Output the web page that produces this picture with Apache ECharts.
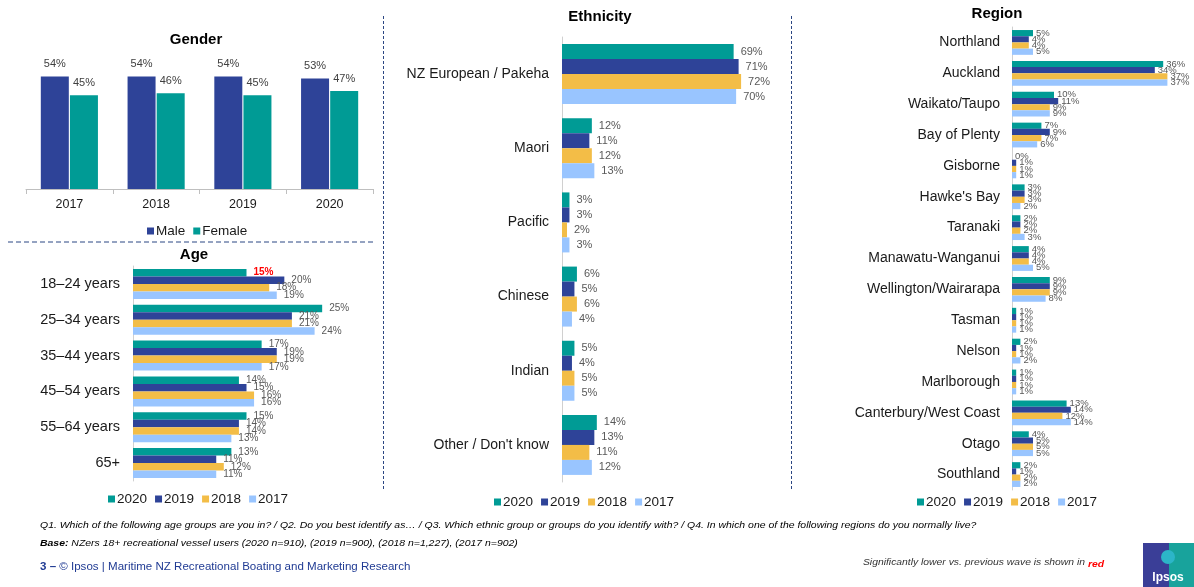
<!DOCTYPE html>
<html>
<head>
<meta charset="utf-8">
<script src="https://cdn.jsdelivr.net/npm/echarts@6/dist/echarts.min.js"></script>
<style>
html,body{margin:0;padding:0;background:#fff;}
#c{width:1194px;height:587px;}
</style>
</head>
<body>
<div id="c"></div>
<script>
// ---------- DATA ----------
const genderYears = ['2017', '2018', '2019', '2020'];
const genderMale = [54, 54, 54, 53];
const genderFemale = [45, 46, 45, 47];

const waves = ['2020', '2019', '2018', '2017'];

const ageGroups = ['18–24 years', '25–34 years', '35–44 years', '45–54 years', '55–64 years', '65+'];
const age2020 = [15, 25, 17, 14, 15, 13];
const age2019 = [20, 21, 19, 15, 14, 11];
const age2018 = [18, 21, 19, 16, 14, 12];
const age2017 = [19, 24, 17, 16, 13, 11];
const age2020SigLower = [true, false, false, false, false, false];

const ethnicGroups = ['NZ European / Pakeha', 'Maori', 'Pacific', 'Chinese', 'Indian', "Other / Don't know"];
const eth2020 = [69, 12, 3, 6, 5, 14];
const eth2019 = [71, 11, 3, 5, 4, 13];
const eth2018 = [72, 12, 2, 6, 5, 11];
const eth2017 = [70, 13, 3, 4, 5, 12];

const regions = ['Northland', 'Auckland', 'Waikato/Taupo', 'Bay of Plenty', 'Gisborne', "Hawke's Bay", 'Taranaki',
  'Manawatu-Wanganui', 'Wellington/Wairarapa', 'Tasman', 'Nelson', 'Marlborough', 'Canterbury/West Coast', 'Otago', 'Southland'];
const reg2020 = [5, 36, 10, 7, 0, 3, 2, 4, 9, 1, 2, 1, 13, 4, 2];
const reg2019 = [4, 34, 11, 9, 1, 3, 2, 4, 9, 1, 1, 1, 14, 5, 1];
const reg2018 = [4, 37, 9, 7, 1, 3, 2, 4, 9, 1, 1, 1, 12, 5, 2];
const reg2017 = [5, 37, 9, 6, 1, 2, 3, 5, 8, 1, 2, 1, 14, 5, 2];

// ---------- STYLE ----------
const FONT = 'Liberation Sans, Arial, sans-serif';
const C_TEAL = '#009B95', C_NAVY = '#2E4398', C_YEL = '#F3BD47', C_LBLUE = '#99C5FF';
const waveColors = [C_TEAL, C_NAVY, C_YEL, C_LBLUE];
const LBL = '#595959';

const chart = echarts.init(document.getElementById('c'), null, {renderer: 'canvas'});

const grids = [
  {left: 26, top: 64, width: 347, height: 125},       // gender
  {left: 133, top: 266, width: 227, height: 215},     // age
  {left: 562, top: 37, width: 199, height: 445},      // ethnicity
  {left: 1012, top: 27, width: 168, height: 463}      // region
];

const hiddenValueAxis = (gi, max) => ({
  type: 'value', gridIndex: gi, min: 0, max: max,
  axisLine: {show: false}, axisTick: {show: false}, axisLabel: {show: false}, splitLine: {show: false}
});
const catY = (gi, data, fs, margin) => ({
  type: 'category', gridIndex: gi, data: data, inverse: true,
  axisLine: {show: true, lineStyle: {color: '#D0D0D0'}},
  axisTick: {show: false},
  axisLabel: {color: '#1a1a1a', fontSize: fs, fontFamily: FONT, margin: margin}
});

const xAxis = [
  {type: 'category', gridIndex: 0, data: genderYears,
   axisLine: {lineStyle: {color: '#BFBFBF'}},
   axisTick: {show: true, length: 5, lineStyle: {color: '#BFBFBF'}},
   axisLabel: {color: '#1a1a1a', fontSize: 12.5, fontFamily: FONT, margin: 9}},
  hiddenValueAxis(1, 30),
  hiddenValueAxis(2, 80),
  hiddenValueAxis(3, 40)
];
const yAxis = [
  hiddenValueAxis(0, 60),
  catY(1, ageGroups, 14.5, 13),
  catY(2, ethnicGroups, 14, 13),
  catY(3, regions, 14, 12)
];

const series = [];
series.push({
  name: 'Male', type: 'bar', xAxisIndex: 0, yAxisIndex: 0, data: genderMale,
  barWidth: 28, barGap: '4%', itemStyle: {color: C_NAVY},
  label: {show: true, position: 'top', distance: 7, formatter: '{c}%', color: '#404040', fontSize: 11, fontFamily: FONT}
});
series.push({
  name: 'Female', type: 'bar', xAxisIndex: 0, yAxisIndex: 0, data: genderFemale,
  barWidth: 28, itemStyle: {color: C_TEAL},
  label: {show: true, position: 'top', distance: 7, formatter: '{c}%', color: '#404040', fontSize: 11, fontFamily: FONT}
});

function addGroup(gi, arrays, barWidth, fs, dist, flags) {
  arrays.forEach((arr, i) => {
    const data = arr.map((v, j) => {
      if (i === 0 && flags && flags[j]) {
        return {value: v, label: {color: '#FF0000', fontWeight: 'bold'}};
      }
      return v;
    });
    series.push({
      name: waves[i], type: 'bar', xAxisIndex: gi, yAxisIndex: gi, data: data,
      barWidth: barWidth, barGap: '0%', itemStyle: {color: waveColors[i]},
      label: {show: true, position: 'right', distance: dist, formatter: '{c}%', color: LBL, fontSize: fs, fontFamily: FONT}
    });
  });
}
addGroup(1, [age2020, age2019, age2018, age2017], 7.5, 10, 7, age2020SigLower);
addGroup(2, [eth2020, eth2019, eth2018, eth2017], 15, 11, 7, null);
addGroup(3, [reg2020, reg2019, reg2018, reg2017], 6.2, 9.5, 3, null);

const legendBase = {
  icon: 'rect', itemWidth: 7, itemHeight: 7, itemGap: 8,
  textStyle: {fontSize: 13.5, fontFamily: FONT, color: '#1a1a1a', padding: [0, 0, 0, -3]},
  selectedMode: false
};

const DASH = '#2B4683';
const graphic = [
  {type: 'text', x: 196, y: 40, style: {text: 'Gender', font: 'bold 15px ' + FONT, fill: '#000', align: 'center', verticalAlign: 'middle'}},
  {type: 'text', x: 194, y: 255, style: {text: 'Age', font: 'bold 15px ' + FONT, fill: '#000', align: 'center', verticalAlign: 'middle'}},
  {type: 'text', x: 600, y: 17, style: {text: 'Ethnicity', font: 'bold 15px ' + FONT, fill: '#000', align: 'center', verticalAlign: 'middle'}},
  {type: 'text', x: 997, y: 14, style: {text: 'Region', font: 'bold 15px ' + FONT, fill: '#000', align: 'center', verticalAlign: 'middle'}},
  {type: 'line', shape: {x1: 8, y1: 242, x2: 376, y2: 242}, style: {stroke: DASH, lineWidth: 1, lineDash: [5, 3]}},
  {type: 'line', shape: {x1: 383.5, y1: 16, x2: 383.5, y2: 490}, style: {stroke: DASH, lineWidth: 1, lineDash: [3, 2]}},
  {type: 'line', shape: {x1: 791.5, y1: 16, x2: 791.5, y2: 490}, style: {stroke: DASH, lineWidth: 1, lineDash: [3, 2]}},
  {type: 'text', x: 40, y: 525, scaleX: 1.1, style: {
    text: 'Q1. Which of the following age groups are you in? / Q2. Do you best identify as… / Q3. Which ethnic group or groups do you identify with? / Q4. In which one of the following regions do you normally live?',
    font: 'italic 9.5px ' + FONT, fill: '#000', verticalAlign: 'middle'}},
  {type: 'text', x: 40, y: 543, scaleX: 1.1, style: {
    text: '{b|Base:} {t|NZers 18+ recreational vessel users (2020 n=910), (2019 n=900), (2018 n=1,227), (2017 n=902)}',
    font: 'italic 9.5px ' + FONT, fill: '#000', verticalAlign: 'middle',
    rich: {b: {font: 'italic bold 9.5px ' + FONT, fill: '#000', lineHeight: 12},
           t: {font: 'italic 9.5px ' + FONT, fill: '#000', lineHeight: 12}}}},
  {type: 'text', x: 40, y: 567, scaleX: 1.1, style: {
    text: '{n|3 –} {t|© Ipsos | Maritime NZ Recreational Boating and Marketing Research}',
    font: '10.5px ' + FONT, fill: '#1F3A93', verticalAlign: 'middle',
    rich: {n: {font: 'bold 10.5px ' + FONT, fill: '#1F3A93', lineHeight: 13},
           t: {font: '10.5px ' + FONT, fill: '#1F3A93', lineHeight: 13}}}},
  {type: 'text', x: 1085, y: 562, scaleX: 1.15, style: {
    text: 'Significantly lower vs. previous wave is shown in',
    font: 'italic 9px ' + FONT, fill: '#333', align: 'right', verticalAlign: 'middle'}},
  {type: 'text', x: 1104, y: 564.5, scaleX: 1.15, style: {
    text: 'red',
    font: 'italic bold 9px ' + FONT, fill: '#FF0000', align: 'right', verticalAlign: 'middle'}},
  {type: 'rect', shape: {x: 1143, y: 543, width: 26, height: 44}, style: {fill: '#3A3E97'}},
  {type: 'rect', shape: {x: 1169, y: 543, width: 25, height: 44}, style: {fill: '#18A39C'}},
  {type: 'circle', shape: {cx: 1168, cy: 557, r: 7}, style: {fill: '#2CB5C8'}},
  {type: 'text', x: 1168, y: 578, style: {text: 'Ipsos', font: 'bold 12px ' + FONT, fill: '#fff', align: 'center', verticalAlign: 'middle'}}
];

chart.setOption({
  animation: false,
  backgroundColor: '#fff',
  grid: grids,
  xAxis: xAxis,
  yAxis: yAxis,
  legend: [
    Object.assign({}, legendBase, {data: ['Male', 'Female'], left: 142, top: 219}),
    Object.assign({}, legendBase, {data: waves, left: 103, top: 487}),
    Object.assign({}, legendBase, {data: waves, left: 489, top: 490}),
    Object.assign({}, legendBase, {data: waves, left: 912, top: 490})
  ],
  series: series,
  graphic: graphic
});
</script>
</body>
</html>
